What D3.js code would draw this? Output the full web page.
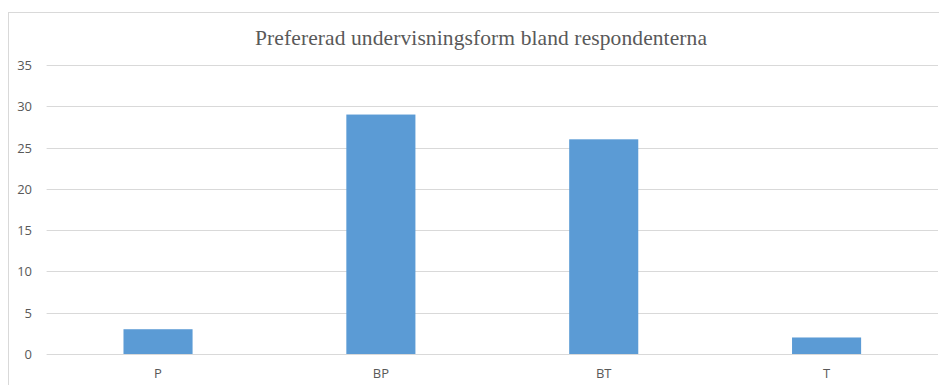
<!DOCTYPE html>
<html>
<head>
<meta charset="utf-8">
<script src="https://cdn.jsdelivr.net/npm/d3@7"></script>
<style>
  html, body { margin: 0; padding: 0; background: #fff; }
  svg { display: block; }
</style>
</head>
<body>
<svg id="chart" width="939" height="385"></svg>
<script>
// Survey answers: preferred form of teaching
const categories = ["P", "BP", "BT", "T"];
const counts = [3, 29, 26, 2];
const yTicks = [0, 5, 10, 15, 20, 25, 30, 35];
const title = "Prefererad undervisningsform bland respondenterna";

const W = 939, H = 385;
const margin = { left: 46.6, right: 1, top: 65, bottom: 31 };

const svg = d3.select("#chart");

// Chart area frame
svg.append("rect")
  .attr("x", 8.5).attr("y", 12.5)
  .attr("width", W + 10).attr("height", H + 10)
  .attr("fill", "#fff")
  .attr("stroke", "#d9d9d9")
  .attr("stroke-width", 1);

const x = d3.scaleBand()
  .domain(categories)
  .range([margin.left, W - margin.right])
  .paddingInner(0.69)
  .paddingOuter(0.345);

const y = d3.scaleLinear()
  .domain([0, 35])
  .range([354, 65]);

// Gridlines
svg.append("g")
  .selectAll("line")
  .data(yTicks)
  .join("line")
  .attr("x1", margin.left)
  .attr("x2", W - margin.right)
  .attr("y1", d => Math.round(y(d)) + 0.5)
  .attr("y2", d => Math.round(y(d)) + 0.5)
  .attr("stroke", "#d9d9d9")
  .attr("stroke-width", 1);

// Y axis labels
const yAxis = d3.axisLeft(y).tickValues(yTicks).tickSize(0).tickPadding(0);
svg.append("g")
  .attr("transform", "translate(32,0)")
  .call(yAxis)
  .call(g => g.select(".domain").remove())
  .call(g => g.selectAll("text")
    .attr("fill", "#595959")
    .attr("font-family", "'Open Sans', 'Noto Sans', sans-serif")
    .attr("font-size", 13)
    .attr("dy", "0.35em"));

// Bars
svg.append("g")
  .selectAll("rect")
  .data(categories.map((c, i) => ({ c, v: counts[i] })))
  .join("rect")
  .attr("x", d => x(d.c))
  .attr("width", x.bandwidth())
  .attr("y", d => y(d.v))
  .attr("height", d => y(0) - y(d.v))
  .attr("fill", "#5b9bd5");

// X axis labels
const xAxis = d3.axisBottom(x).tickSize(0).tickPadding(0);
svg.append("g")
  .attr("transform", "translate(0,369)")
  .call(xAxis)
  .call(g => g.select(".domain").remove())
  .call(g => g.selectAll("text")
    .attr("fill", "#595959")
    .attr("font-family", "'Open Sans', 'Noto Sans', sans-serif")
    .attr("font-size", 13)
    .attr("dy", "0.7em"));

// Title
svg.append("text")
  .attr("x", 481)
  .attr("y", 45)
  .attr("text-anchor", "middle")
  .attr("fill", "#595959")
  .attr("font-family", "'Liberation Serif', 'DejaVu Serif', serif")
  .attr("font-size", 21.5)
  .attr("textLength", 452)
  .attr("lengthAdjust", "spacing")
  .text(title);
</script>
</body>
</html>
